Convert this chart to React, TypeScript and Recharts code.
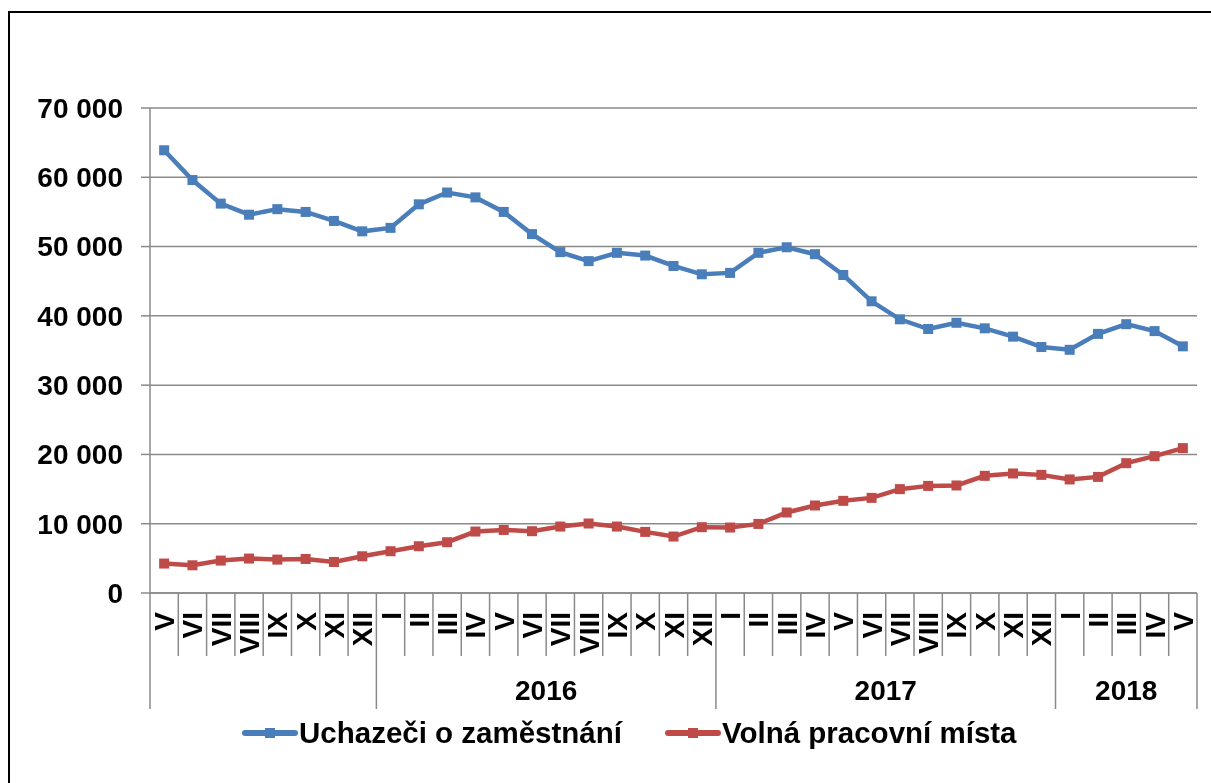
import React from 'react';
import { LineChart, Line, XAxis, YAxis, CartesianGrid } from 'recharts';

const months = ['V','VI','VII','VIII','IX','X','XI','XII','I','II','III','IV','V','VI','VII','VIII','IX','X','XI','XII','I','II','III','IV','V','VI','VII','VIII','IX','X','XI','XII','I','II','III','IV','V'];
const yearLabels = ['', '2016', '2017', '2018'];
const yearMonthCounts = [8, 12, 12, 5];
const seekers = [63900,59600,56200,54600,55400,55000,53700,52200,52700,56100,57800,57100,55000,51800,49200,47900,49100,48700,47200,46000,46200,49100,49900,48900,45900,42100,39500,38100,39000,38200,37000,35500,35100,37400,38800,37800,35600];
const vacancies = [4250,4000,4680,4970,4820,4910,4480,5300,6030,6750,7330,8870,9100,8920,9590,10030,9590,8820,8150,9500,9450,9970,11620,12630,13300,13730,14990,15460,15520,16910,17250,17050,16390,16760,18740,19750,20910];
const yTicks = [0, 10000, 20000, 30000, 40000, 50000, 60000, 70000];
const seriesNames = ['Uchazeči o zaměstnání', 'Volná pracovní místa'];

const BLUE = '#4A7EBB';
const RED = '#BE4B48';
const GRID = '#8A8A8A';
const FONT = '"Liberation Sans", Arial, sans-serif';

const W = 1195;
const H = 767;
const M_TOP = 100;
const M_RIGHT = 6;
const Y_W = 142;
const X_H = 182;
const PLOT_W = W - Y_W - M_RIGHT;
const AXIS_Y = H - X_H;
const N = months.length;
const BAND = PLOT_W / N;

// year group starts
const yearStart: Record<number, { label: string; count: number }> = {};
{
  let acc = 0;
  yearMonthCounts.forEach((c, i) => {
    yearStart[acc] = { label: yearLabels[i], count: c };
    acc += c;
  });
}

const data = months.map((m, i) => ({ idx: String(i), month: m, seekers: seekers[i], vacancies: vacancies[i] }));

const fmt = (v: number) => {
  if (v === 0) return '0';
  const s = String(v);
  return s.slice(0, s.length - 3) + ' ' + s.slice(s.length - 3);
};

const YTick = (props: any) => {
  const { x, y, payload } = props;
  return (
    <text x={x} y={y} dy="0.35em" textAnchor="end" fontFamily={FONT} fontWeight="bold" fontSize={28} fill="#000">
      {fmt(payload.value)}
    </text>
  );
};

const XTick = (props: any) => {
  const { x, payload } = props;
  const i = payload.index ?? Number(payload.value);
  const left = x - BAND / 2;
  const group = yearStart[i];
  const isLast = i === N - 1;
  const tx = x + 10;
  const ty = AXIS_Y + 19;
  return (
    <g>
      <line x1={left} y1={AXIS_Y} x2={left} y2={AXIS_Y + (group ? 116 : 63)} stroke={GRID} strokeWidth={1.5} />
      {isLast && (
        <line x1={x + BAND / 2} y1={AXIS_Y} x2={x + BAND / 2} y2={AXIS_Y + 116} stroke={GRID} strokeWidth={1.5} />
      )}
      <text
        x={tx}
        y={ty}
        transform={`rotate(-90, ${tx}, ${ty})`}
        textAnchor="end"
        fontFamily={FONT}
        fontWeight="bold"
        fontSize={28}
        fill="#000"
      >
        {months[i]}
      </text>
      {group && group.label && (
        <text
          x={left + (group.count * BAND) / 2}
          y={AXIS_Y + 107}
          textAnchor="middle"
          fontFamily={FONT}
          fontWeight="bold"
          fontSize={28}
          fill="#000"
        >
          {group.label}
        </text>
      )}
    </g>
  );
};

const makeDot = (color: string) => (props: any) => {
  const { cx, cy, index } = props;
  if (cx == null || cy == null) return <g key={index} />;
  return <rect key={index} x={cx - 5} y={cy - 5} width={10} height={10} fill={color} />;
};

const LegendItem = ({ color, label }: { color: string; label: string }) => (
  <div style={{ display: 'flex', alignItems: 'center' }}>
    <svg width={56} height={14} style={{ display: 'block' }}>
      <line x1={3} y1={7} x2={53} y2={7} stroke={color} strokeWidth={6} strokeLinecap="round" />
      <rect x={23} y={2} width={10} height={10} fill={color} />
    </svg>
    <span style={{ fontFamily: FONT, fontWeight: 'bold', fontSize: 29.5, lineHeight: '34px', color: '#000', marginLeft: 1, whiteSpace: 'nowrap' }}>{label}</span>
  </div>
);

export default function App() {
  return (
    <div style={{ position: 'relative', width: W, height: H, background: '#fff' }}>
      <div style={{ position: 'fixed', left: 8, top: 11, right: 0, height: 2, background: '#000' }} />
      <div style={{ position: 'fixed', left: 8, top: 11, width: 2, bottom: 0, background: '#000' }} />
      <LineChart width={W} height={H} data={data} margin={{ top: M_TOP, right: M_RIGHT, left: 0, bottom: 0 }}>
        <CartesianGrid horizontal vertical={false} stroke={GRID} strokeWidth={1.5} />
        <XAxis
          dataKey="idx"
          scale="band"
          interval={0}
          height={X_H}
          tickLine={false}
          axisLine={{ stroke: GRID, strokeWidth: 1.5 }}
          tick={<XTick />}
        />
        <YAxis
          width={Y_W}
          domain={[0, 70000]}
          ticks={yTicks}
          interval={0}
          tickSize={9}
          tickMargin={18}
          tickLine={{ stroke: GRID, strokeWidth: 1.5 }}
          axisLine={{ stroke: GRID, strokeWidth: 1.5 }}
          tick={<YTick />}
        />
        <Line
          type="linear"
          dataKey="seekers"
          name={seriesNames[0]}
          stroke={BLUE}
          strokeWidth={4.5}
          dot={makeDot(BLUE)}
          activeDot={false}
          isAnimationActive={false}
        />
        <Line
          type="linear"
          dataKey="vacancies"
          name={seriesNames[1]}
          stroke={RED}
          strokeWidth={4.5}
          dot={makeDot(RED)}
          activeDot={false}
          isAnimationActive={false}
        />
      </LineChart>
      <div style={{ position: 'absolute', left: 234, top: 708, display: 'flex', alignItems: 'center', gap: 43 }}>
        <LegendItem color={BLUE} label={seriesNames[0]} />
        <LegendItem color={RED} label={seriesNames[1]} />
      </div>
    </div>
  );
}
